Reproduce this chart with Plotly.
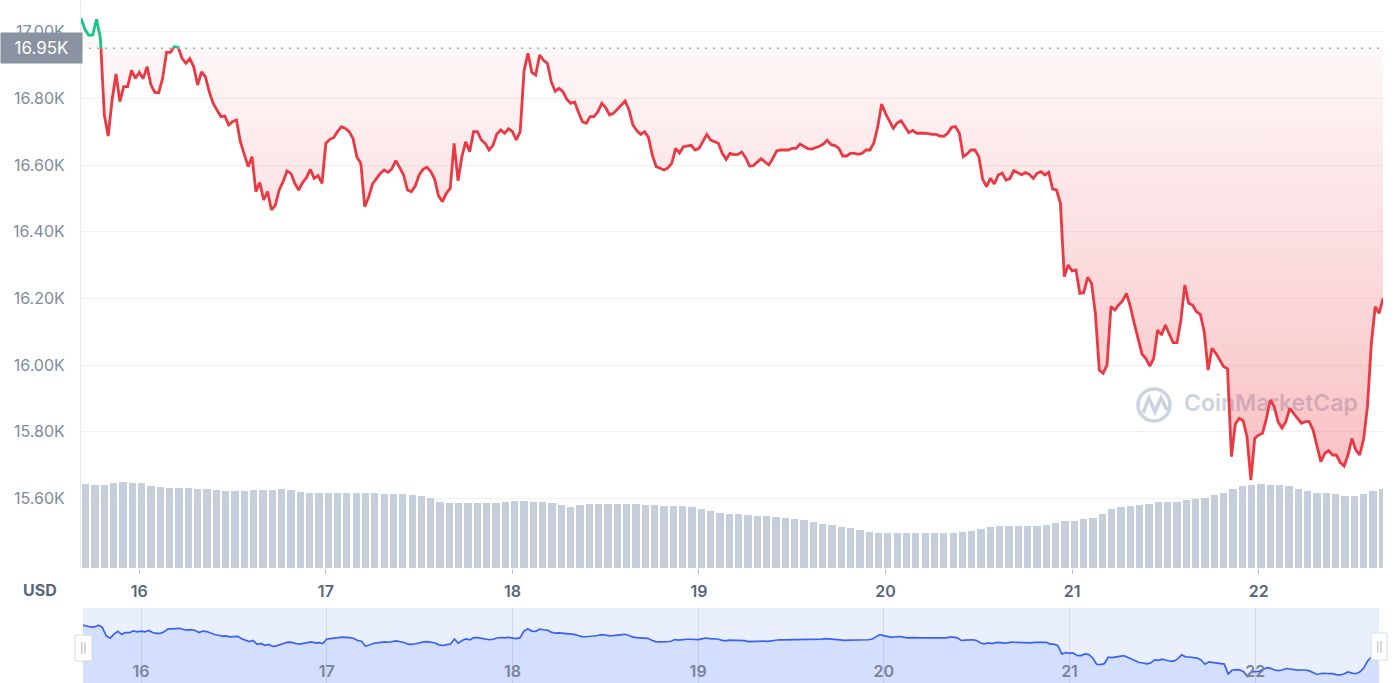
import plotly.graph_objects as go
import pandas as pd

# ---------------- data ----------------
start_time = "2022-11-15 16:30"
step = "30min"
price_k = [
    17.040, 17.007, 16.989, 16.990, 17.037, 16.980, 16.750, 16.687, 16.795, 16.873,
    16.790, 16.835, 16.835, 16.884, 16.860, 16.878, 16.859, 16.895, 16.840, 16.818,
    16.817, 16.860, 16.938, 16.938, 16.955, 16.953, 16.920, 16.905, 16.919, 16.895,
    16.840, 16.879, 16.865, 16.820, 16.785, 16.767, 16.745, 16.747, 16.720, 16.730,
    16.735, 16.670, 16.635, 16.595, 16.625, 16.520, 16.547, 16.495, 16.520, 16.465,
    16.480, 16.525, 16.550, 16.582, 16.575, 16.545, 16.525, 16.547, 16.562, 16.587,
    16.560, 16.568, 16.545, 16.665, 16.677, 16.682, 16.700,
    16.715, 16.710, 16.700, 16.679, 16.623, 16.605, 16.475, 16.503, 16.543, 16.559,
    16.575, 16.585, 16.578, 16.589, 16.613, 16.592, 16.570, 16.525, 16.520, 16.537,
    16.570, 16.587, 16.593, 16.580, 16.557, 16.507, 16.490, 16.515, 16.530, 16.665,
    16.553, 16.625, 16.670, 16.640, 16.700, 16.700, 16.675, 16.665, 16.645, 16.659,
    16.693, 16.705, 16.695, 16.709, 16.700, 16.675, 16.700, 16.883, 16.935, 16.878,
    16.870, 16.930, 16.914, 16.905, 16.850, 16.821, 16.830, 16.820, 16.797, 16.785,
    16.789, 16.758, 16.730, 16.725, 16.745, 16.745, 16.760,
    16.785, 16.772, 16.750, 16.755, 16.767, 16.779, 16.792, 16.765, 16.720, 16.703,
    16.692, 16.700, 16.683, 16.630, 16.595, 16.590, 16.585, 16.591, 16.605, 16.650,
    16.636, 16.655, 16.658, 16.659, 16.645, 16.650, 16.670, 16.692, 16.675, 16.670,
    16.665, 16.635, 16.617, 16.635, 16.631, 16.632, 16.639, 16.622, 16.597, 16.598,
    16.609, 16.619, 16.609, 16.600, 16.620, 16.642, 16.645, 16.644, 16.645, 16.650,
    16.650, 16.663, 16.655, 16.649, 16.648, 16.651, 16.656, 16.663, 16.674, 16.661,
    16.658, 16.650, 16.627, 16.627, 16.635, 16.635, 16.632,
    16.635, 16.645, 16.645, 16.666, 16.715, 16.783, 16.755, 16.730, 16.710, 16.726,
    16.733, 16.715, 16.697, 16.704, 16.695, 16.696, 16.696, 16.694, 16.692, 16.692,
    16.687, 16.686, 16.695, 16.713, 16.715, 16.695, 16.625, 16.633, 16.645, 16.645,
    16.625, 16.557, 16.535, 16.560, 16.543, 16.570, 16.576, 16.555, 16.559, 16.583,
    16.577, 16.571, 16.577, 16.572, 16.560, 16.575, 16.580, 16.570, 16.578, 16.528,
    16.525, 16.485, 16.265, 16.300, 16.282, 16.285, 16.215, 16.217, 16.263, 16.245,
    16.155, 15.985, 15.975, 16.000, 16.175, 16.165, 16.180,
    16.193, 16.215, 16.175, 16.125, 16.075, 16.033, 16.019, 15.997, 16.020, 16.105,
    16.090, 16.120, 16.093, 16.067, 16.067, 16.135, 16.240, 16.185, 16.180, 16.160,
    16.152, 16.100, 15.985, 16.050, 16.035, 16.013, 15.995, 15.989, 15.725, 15.823,
    15.840, 15.833, 15.785, 15.655, 15.780, 15.790, 15.795, 15.840, 15.895, 15.875,
    15.830, 15.811, 15.830, 15.870, 15.855, 15.840, 15.825, 15.830, 15.830, 15.805,
    15.755, 15.710, 15.735, 15.743, 15.730, 15.730, 15.707, 15.697, 15.730, 15.780,
    15.745, 15.730, 15.777, 15.875, 16.065, 16.175, 16.155, 16.200,
]

vol_step_min = 72
volume_b = [
    29.6, 29.2, 29.2, 29.9, 30.3, 29.9, 29.9, 28.9, 28.5, 28.2,
    28.2, 28.2, 27.8, 27.8, 27.5, 27.1, 27.1, 27.1, 27.5, 27.5,
    27.5, 27.8, 27.5, 26.8, 26.4, 26.4, 26.4, 26.4, 26.4, 26.4,
    26.4, 26.4, 26.1, 26.1, 26.1, 25.7, 25.4, 24.6, 23.2, 22.9,
    22.9, 22.9, 22.9, 22.9, 22.9, 23.2, 23.6, 23.6, 23.2, 23.2,
    22.9, 22.2, 21.5, 22.2, 22.5, 22.5, 22.5, 22.5, 22.5, 22.5,
    22.2, 22.2, 21.8, 21.8, 21.8, 21.5, 20.8, 20.1, 19.4, 19.0,
    19.0, 18.7, 18.3, 18.3, 18.0, 17.6, 17.3, 16.9, 16.2, 15.5,
    15.1, 14.4, 14.1, 13.4, 12.7, 12.3, 12.3, 12.3, 12.3, 12.3,
    12.3, 12.3, 12.3, 12.3, 12.7, 13.0, 13.7, 14.4, 14.8, 14.8,
    14.8, 14.8, 14.8, 15.1, 15.8, 16.5, 16.5, 17.3, 17.6, 19.0,
    20.8, 21.5, 21.8, 22.2, 22.5, 23.2, 23.2, 23.2, 23.9, 24.3,
    24.6, 25.7, 26.4, 27.8, 28.9, 29.2, 29.6, 29.2, 29.2, 28.9,
    27.8, 27.1, 26.4, 26.4, 26.1, 25.4, 25.4, 26.1, 27.1, 27.8,
]

baseline_k = 16.95
day_ticks = ["2022-11-16", "2022-11-17", "2022-11-18", "2022-11-19",
             "2022-11-20", "2022-11-21", "2022-11-22"]
day_labels = ["16", "17", "18", "19", "20", "21", "22"]
y_ticks = [15.60, 15.80, 16.00, 16.20, 16.40, 16.60, 16.80, 17.00]
y_labels = ["15.60K", "15.80K", "16.00K", "16.20K", "16.40K", "16.60K", "16.80K", "17.00K"]

# ---------------- derived ----------------
t0 = pd.Timestamp(start_time)
times = pd.date_range(t0, periods=len(price_k), freq=step)
t_end = times[-1]
vol_times = pd.date_range(t0 + pd.Timedelta(minutes=vol_step_min / 2),
                          periods=len(volume_b), freq=f"{vol_step_min}min")
bar_w_ms = vol_step_min * 60 * 1000 * 0.78

W, H = 1400, 683
def px(x):
    return x / W
def py(y):
    return 1 - y / H

y_min, y_max = 15.391, 17.095
d0 = py(568)
d_base = d0 + (baseline_k - y_min) / (y_max - y_min) * (1 - d0)

RED = "#ea3943"
GREEN = "#16c784"
FONT = "Inter"

fig = go.Figure()

# watermark (below everything)
wm_frac = (1184 - 81) / (1383 - 81)
wm_x = t0 + (t_end - t0) * wm_frac
fig.add_trace(go.Scatter(
    x=[wm_x], y=[15.880], mode="text", text=["CoinMarketCap"],
    textposition="middle right",
    textfont=dict(family=FONT, size=23, color="#cbd2e1", weight=600),
    hoverinfo="skip", showlegend=False))

# baseline + gradient fill
fig.add_trace(go.Scatter(x=times, y=[baseline_k] * len(times), mode="lines",
                         line=dict(width=0), hoverinfo="skip", showlegend=False))
fig.add_trace(go.Scatter(
    x=times, y=price_k, mode="lines", line=dict(width=0), fill="tonexty",
    fillgradient=dict(type="vertical", start=15.65, stop=baseline_k,
                      colorscale=[[0, "rgba(234,57,67,0.32)"],
                                  [1, "rgba(234,57,67,0.04)"]]),
    hoverinfo="skip", showlegend=False))

# volume bars
fig.add_trace(go.Bar(x=vol_times, y=volume_b, yaxis="y2", width=bar_w_ms,
                     marker=dict(color="#c6cddb", line=dict(width=0)),
                     hoverinfo="skip", showlegend=False))

# price line: red below baseline, green above (clipped sub-areas)
fig.add_trace(go.Scatter(x=times, y=price_k, yaxis="y5", mode="lines",
                         line=dict(color=RED, width=2.8), showlegend=False))
fig.add_trace(go.Scatter(x=times, y=price_k, yaxis="y4", mode="lines",
                         line=dict(color=GREEN, width=2.8), showlegend=False))

# navigator
fig.add_trace(go.Scatter(x=times, y=price_k, xaxis="x2", yaxis="y3", mode="lines",
                         line=dict(color="#3861fb", width=1.7), fill="tozeroy",
                         fillcolor="rgba(56,97,251,0.12)", showlegend=False))

fig.update_layout(
    width=W, height=H, margin=dict(l=0, r=0, t=0, b=0),
    paper_bgcolor="white", plot_bgcolor="rgba(0,0,0,0)",
    font=dict(family=FONT),
    showlegend=False, bargap=0,
    xaxis=dict(domain=[px(81), px(1383)], range=[t0, t_end], type="date",
               tickvals=day_ticks, ticktext=day_labels, ticks="outside",
               ticklen=5, tickwidth=1, tickcolor="#b8c0cf", ticklabelstandoff=4,
               tickfont=dict(family=FONT, size=16, color="#58667e", weight=600),
               showgrid=False, zeroline=False, showline=False, anchor="y"),
    yaxis=dict(domain=[d0, 1], range=[y_min, y_max], tickvals=y_ticks,
               ticktext=y_labels, ticks="outside", ticklen=12,
               tickcolor="rgba(0,0,0,0)",
               tickfont=dict(family=FONT, size=16, color="#808a9d"),
               gridcolor="#eff2f5", gridwidth=1, zeroline=False,
               showline=True, linecolor="#e6e9ee", linewidth=1, anchor="x"),
    yaxis2=dict(overlaying="y", range=[0, 200], visible=False),
    yaxis4=dict(domain=[d_base, 1], range=[baseline_k, y_max], visible=False, anchor="x"),
    yaxis5=dict(domain=[d0, d_base], range=[y_min, baseline_k], visible=False, anchor="x"),
    xaxis2=dict(domain=[px(83), px(1379)], range=[t0, t_end], type="date",
                anchor="y3", tickvals=day_ticks, ticktext=day_labels,
                ticklabelposition="inside", ticks="",
                tickfont=dict(family=FONT, size=16, color="#7a8499", weight=600),
                showgrid=True, gridcolor="rgba(140,150,180,0.25)", gridwidth=1,
                zeroline=False, showline=False),
    yaxis3=dict(domain=[0, py(608)], range=[15.48, 17.50], visible=False, anchor="x2"),
)

shapes = [
    # navigator background
    dict(type="rect", xref="paper", yref="paper", x0=px(83), x1=px(1379),
         y0=0, y1=py(608), fillcolor="#eaeffd", line=dict(width=0), layer="below"),
    # dotted baseline
    dict(type="line", xref="paper", yref="y", x0=px(81), x1=px(1383),
         y0=baseline_k, y1=baseline_k,
         line=dict(color="#a3acbd", width=1.5, dash="2px,6px"), layer="above"),
    # watermark logo ring
    dict(type="circle", xref="paper", yref="paper",
         x0=px(1154 - 16), x1=px(1154 + 16), y0=py(405 + 16), y1=py(405 - 16),
         line=dict(color="#cbd2e1", width=3.5), layer="below"),
    dict(type="path", xref="paper", yref="paper",
         path=(f"M {px(1143)},{py(413)} L {px(1149)},{py(398)} L {px(1155)},{py(412)} "
               f"L {px(1161)},{py(398)} L {px(1167)},{py(410)}"),
         line=dict(color="#cbd2e1", width=3.5), layer="below"),
    # navigator handles
    dict(type="rect", xref="paper", yref="paper", x0=px(75), x1=px(92),
         y0=py(661), y1=py(635), fillcolor="white",
         line=dict(color="#d5dae4", width=1), layer="above"),
    dict(type="rect", xref="paper", yref="paper", x0=px(1371), x1=px(1387),
         y0=py(660), y1=py(633), fillcolor="white",
         line=dict(color="#d5dae4", width=1), layer="above"),
]
fig.update_layout(shapes=shapes)

annotations = [
    dict(text="16.95K", xref="paper", yref="paper", x=0, y=py(48.5),
         xanchor="left", yanchor="middle", showarrow=False, width=81, height=30,
         bgcolor="#8a91a0", borderpad=0, align="center",
         font=dict(family=FONT, size=17, color="white")),
    dict(text="USD", xref="paper", yref="paper", x=px(40), y=py(590),
         xanchor="center", yanchor="middle", showarrow=False,
         font=dict(family=FONT, size=16, color="#58667e", weight=700)),
    dict(text="||", xref="paper", yref="paper", x=px(83.5), y=py(648),
         xanchor="center", yanchor="middle", showarrow=False,
         font=dict(family=FONT, size=10, color="#a0a8b8")),
    dict(text="||", xref="paper", yref="paper", x=px(1379), y=py(646.5),
         xanchor="center", yanchor="middle", showarrow=False,
         font=dict(family=FONT, size=10, color="#a0a8b8")),
]
fig.update_layout(annotations=annotations)

fig.write_html("out.html")
